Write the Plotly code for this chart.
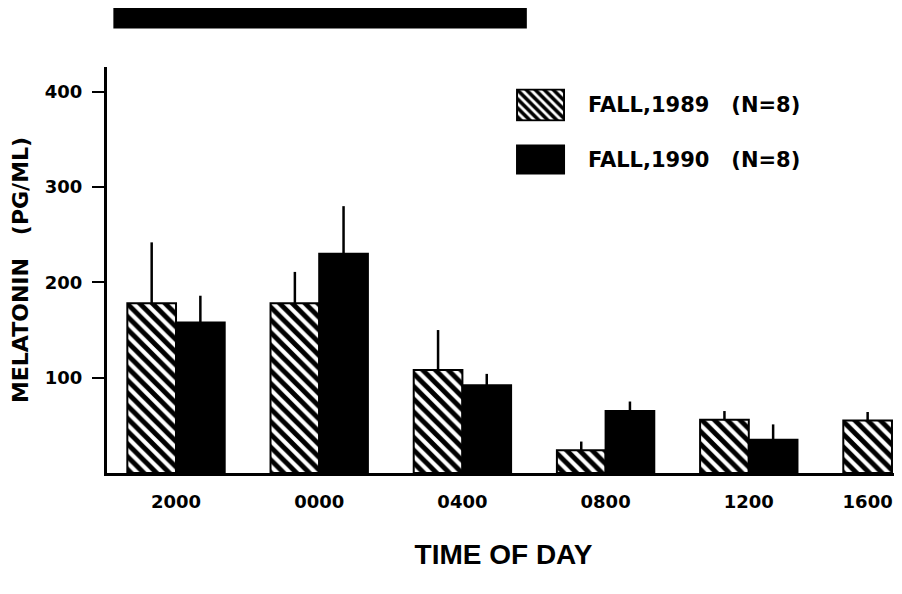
import base64
import plotly.graph_objects as go

# ---- data ----
times = ["2000", "0000", "0400", "0800", "1200", "1600"]
fall_1989 = [178, 178, 108, 24, 56, 55]
fall_1989_err = [64, 33, 42, 9, 9, 9]
fall_1990 = [158, 230, 92, 65, 35, None]
fall_1990_err = [28, 50, 12, 10, 16, None]
series_names = ["FALL,1989\u00a0\u00a0\u00a0(N=8)", "FALL,1990\u00a0\u00a0\u00a0(N=8)"]
hours_per_step = 4
first_hour = 20
dark_start_hour = 18.25   # lights off (approx.)
dark_end_hour = 29.8      # lights on next morning (approx.)

x_pos = list(range(len(times)))
bar_w = 0.34

fig = go.Figure()
fig.add_trace(go.Bar(
    x=x_pos, y=fall_1989, name=series_names[0], width=bar_w, offset=-bar_w,
    marker=dict(color="white", line=dict(color="black", width=2),
                pattern=dict(shape="\\", fgcolor="black", bgcolor="white",
                             size=9, solidity=0.55, fgopacity=1)),
    error_y=dict(type="data", array=fall_1989_err, symmetric=False,
                 arrayminus=[0] * len(fall_1989_err), width=0,
                 thickness=2.5, color="black"),
    showlegend=False,
))
fig.add_trace(go.Bar(
    x=x_pos, y=fall_1990, name=series_names[1], width=bar_w, offset=0,
    marker=dict(color="black", line=dict(color="black", width=2)),
    error_y=dict(type="data", array=fall_1990_err, symmetric=False,
                 arrayminus=[0] * len(fall_1990_err), width=0,
                 thickness=2.5, color="black"),
    showlegend=False,
))

# tick positions: group centre, or single-bar centre when only one series present
tick_pos = [i if fall_1990[i] is not None else i - bar_w / 2 for i in x_pos]

# dark-period bar (night) in data x coordinates
fig.add_shape(type="rect", xref="x", yref="paper",
              x0=(dark_start_hour - first_hour) / hours_per_step,
              x1=(dark_end_hour - first_hour) / hours_per_step,
              y0=1.095, y1=1.148, fillcolor="black", line=dict(width=0))

# custom legend: hatched swatch as svg image, black swatch as rect
svg = ('<svg xmlns="http://www.w3.org/2000/svg" width="49" height="33">'
       '<defs><pattern id="p" width="9" height="9" patternUnits="userSpaceOnUse">'
       '<path d="M-2,-2 L11,11 M-2,7 L2,11 M7,-2 L11,2" stroke="black" stroke-width="3.6"/>'
       '</pattern></defs>'
       '<rect x="1" y="1" width="47" height="31" fill="white"/>'
       '<rect x="1" y="1" width="47" height="31" fill="url(#p)" stroke="black" stroke-width="2"/>'
       '</svg>')
src = "data:image/svg+xml;base64," + base64.b64encode(svg.encode()).decode()
fig.add_layout_image(source=src, xref="paper", yref="paper", x=0.5158, y=0.947,
                     sizex=0.0618, sizey=0.081, sizing="stretch",
                     xanchor="left", yanchor="top", layer="above")
fig.add_shape(type="rect", xref="paper", yref="paper", x0=0.5158, x1=0.5776,
              y0=0.735, y1=0.809, fillcolor="black", line=dict(width=0))
for name, yy in zip(series_names, [0.907, 0.772]):
    fig.add_annotation(text=name, xref="paper", yref="paper", x=0.604, y=yy,
                       xanchor="left", yanchor="middle", showarrow=False,
                       font=dict(family="DejaVu Sans", size=21, color="black",
                                 weight="bold"))

# page body has an 8px default margin: size the figure to the visible area
fig.update_layout(
    width=894, height=586,
    margin=dict(l=99, r=2, t=59, b=121),
    paper_bgcolor="white", plot_bgcolor="white",
    barmode="overlay",
    showlegend=False,
    font=dict(family="DejaVu Sans", color="black"),
)
fig.update_xaxes(
    range=[-0.482, 5.056], showgrid=False, zeroline=False,
    showline=True, linecolor="black", linewidth=3,
    ticks="", tickvals=tick_pos, ticktext=times,
    tickfont=dict(family="DejaVu Sans", size=18, color="black", weight="bold"),
    ticklabelstandoff=10,
    title=dict(text="TIME OF DAY", standoff=34,
               font=dict(family="Liberation Sans", size=28, color="black",
                         weight="bold")),
    automargin=False,
)
fig.update_yaxes(
    range=[0, 426], showgrid=False, zeroline=False,
    showline=True, linecolor="black", linewidth=3,
    ticks="outside", ticklen=12, tickwidth=2, tickcolor="black",
    tickvals=[100, 200, 300, 400], ticktext=["100", "200", "300", "400"],
    tickfont=dict(family="DejaVu Sans", size=18, color="black", weight="bold"),
    ticklabelstandoff=6,
    title=dict(text="MELATONIN\u00a0\u00a0\u00a0(PG/ML)", standoff=24,
               font=dict(family="DejaVu Sans", size=22, color="black",
                         weight="bold")),
    automargin=False,
)

fig.write_html("out.html")
